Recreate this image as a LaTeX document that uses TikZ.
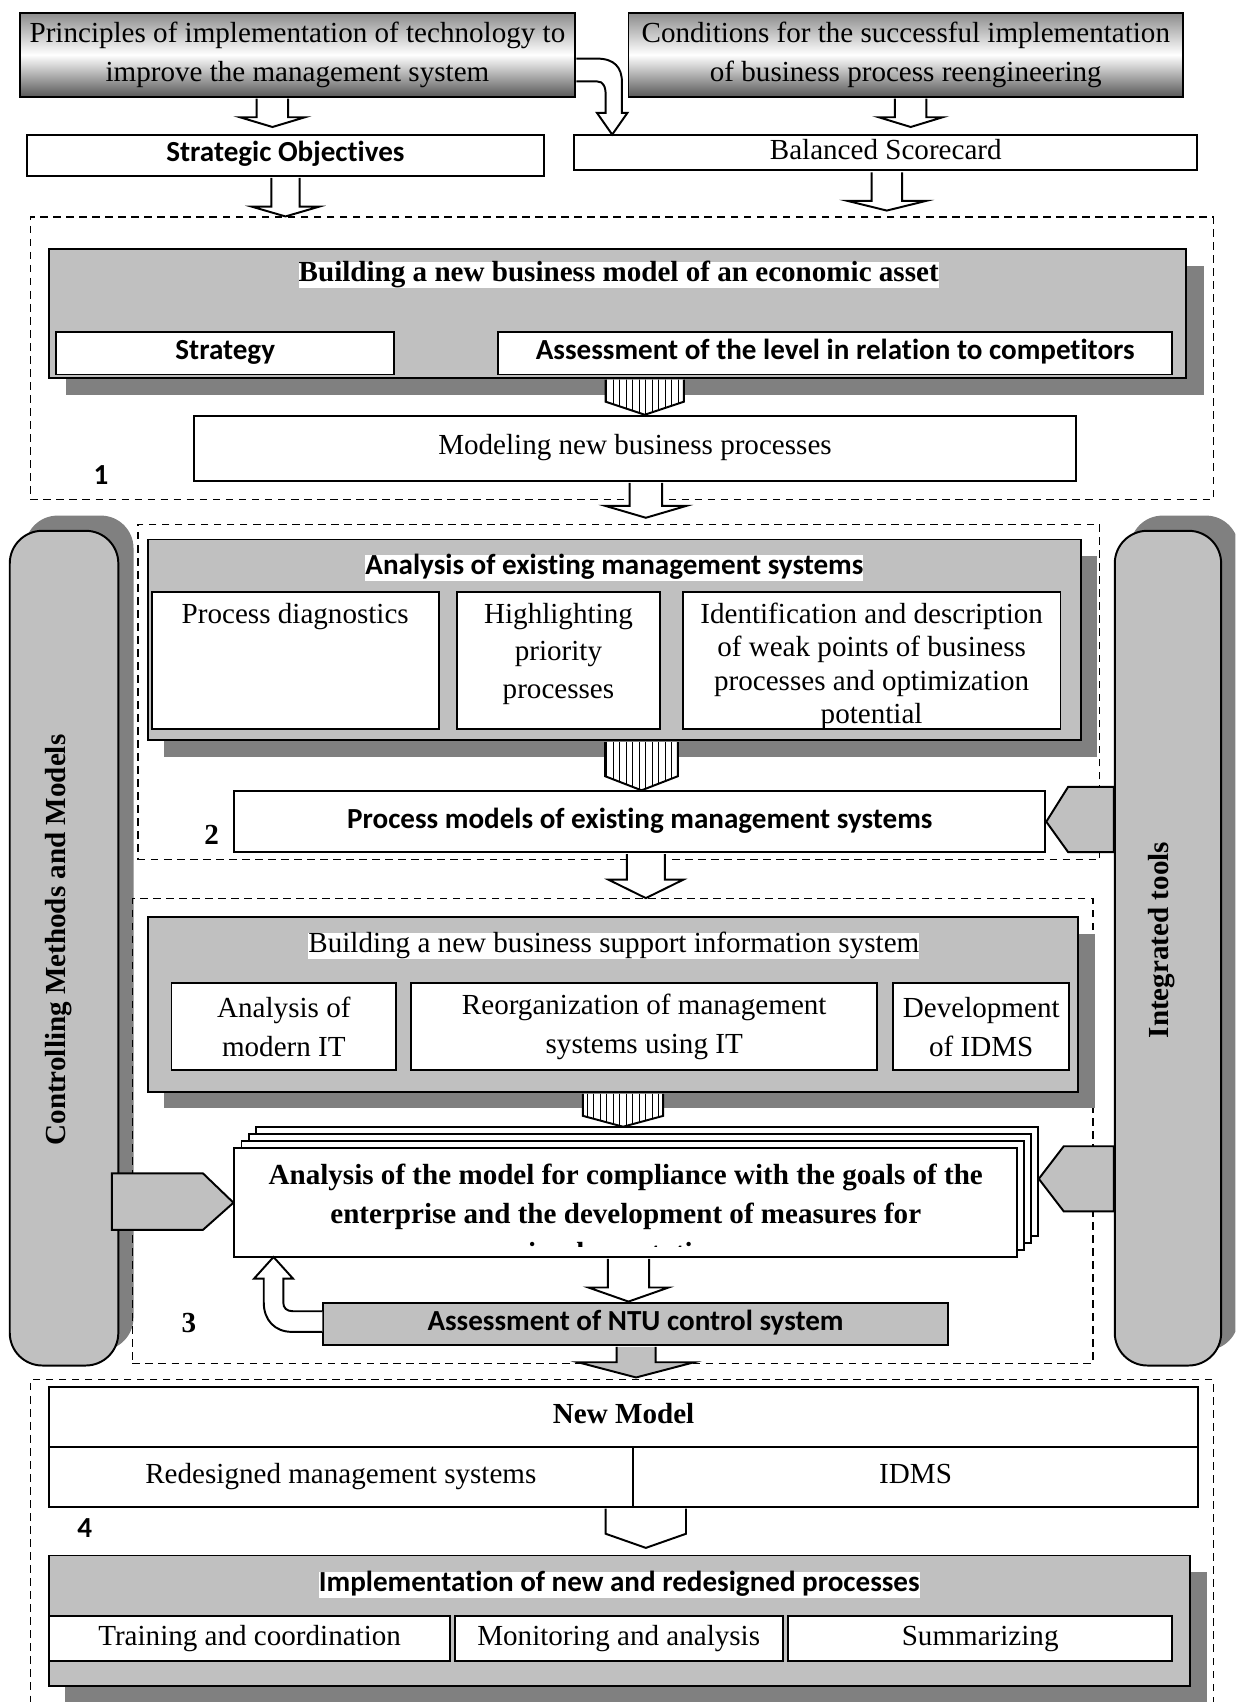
\documentclass[tikz,border=0pt]{standalone}
\usepackage{fontspec}
\setmainfont{Liberation Serif}
\newfontfamily\calibri[Ligatures=NoCommon]{Carlito}
\usetikzlibrary{calc,fit,patterns}
\definecolor{boxgray}{HTML}{C0C0C0}
\definecolor{shadowgray}{HTML}{808080}
\tikzset{
  boxline/.style={draw,line width=0.9pt,inner sep=0pt},
  box/.style={boxline,fill=white},
  graybox/.style={boxline,fill=boxgray},
  shadowfill/.style={fill=shadowgray},
  headbox/.style={boxline,top color=black!45,bottom color=black!65,middle color=white},
  dashframe/.style={draw,line width=0.6pt,dash pattern=on 3.5pt off 2.5pt,inner sep=0pt},
  pillar/.style={boxline,fill=boxgray,rounded corners=15pt},
  hollow/.style={draw,line width=0.9pt,fill=white},
  striped/.style={draw,line width=0.9pt,preaction={fill=white},pattern=vertical lines},
  grayarrow/.style={draw,line width=0.9pt,fill=boxgray},
  serif/.style={font=\fontsize{13.4}{18}\selectfont,align=center,inner sep=0pt},
  serifbold/.style={font=\fontsize{13.4}{18}\selectfont\bfseries,align=center,inner sep=0pt},
  sansbold/.style={font=\calibri\fontsize{13.4}{16}\selectfont\bfseries,align=center,inner sep=0pt},
  oneline/.style={text height=9pt,text depth=3pt},
  headline/.style={oneline,fill=white,inner xsep=1.5pt,inner ysep=2pt},
}
\newcommand{\blockarrow}[7][hollow]{%
  \draw[#1] let \p1=(#2,0 |- #3), \p2=(#2,0 |- #4) in
    (\x1-#5*0.25pt,\y1-0.45pt) -- (\x1-#5*0.25pt,\y2+#7*0.5pt) -- (\x1-#6*0.25pt,\y2+#7*0.5pt)
    -- (\x2,\y2) -- (\x1+#6*0.25pt,\y2+#7*0.5pt) -- (\x1+#5*0.25pt,\y2+#7*0.5pt)
    -- (\x1+#5*0.25pt,\y1-0.45pt);}
\begin{document}
\begin{tikzpicture}[x=0.5pt,y=-0.5pt]
\useasboundingbox (0,0) rectangle (1138,1568);
\clip (0,0) rectangle (1138,1568);

\node[headbox,fit={(18,12) (530,89)}] (prin) {};
\node[serif] (printxt) at (prin) {Principles of implementation of technology to\\improve the management system};
\node[headbox,fit={(579,12) (1090,89)}] (cond) {};
\node[serif] (condtxt) at (cond) {Conditions for the successful implementation\\of business process reengineering};
\node[box,fit={(25,124) (501,162)}] (strat) {};
\node[sansbold,oneline] (strattxt) at (strat) {Strategic Objectives};
\node[box,fit={(529,124) (1103,157)}] (bsc) {};
\node[serif,oneline] (bsctxt) at (bsc) {Balanced Scorecard};
\coordinate (tipA) at (251,117);
\coordinate (tipB) at (839,117);
\coordinate (tipC) at (817,194);
\blockarrow{251}{prin.south}{tipA}{29}{60}{9}
\blockarrow{839}{cond.south}{tipB}{29}{59}{9}
\draw[hollow] (531,54) -- (550,54) .. controls (566,54) and (573,62) .. (573,76) -- (573,104) -- (578,104) -- (564,124) -- (550,104) -- (558,104) -- (558,88) .. controls (558,80) and (556,75) .. (550,75) -- (531,75);

\node[dashframe,fit={(28,200) (1118,460)}] (sec1) {};
\blockarrow{263}{strat.south}{sec1.north}{26}{62}{9}
\blockarrow{817}{bsc.south}{tipC}{28}{73}{9}
\fill[shadowfill] (61,245) rectangle (1109,364);
\node[graybox,fit={(45,229) (1093,348)}] (bnm) {};
\node[headline,serifbold] (bnmtitle) at (570,253.5) {Building a new business model of an economic asset};
\node[box,fit={(52,306) (363,345)}] (strategy) {};
\node[sansbold,oneline] (strategytxt) at (strategy) {Strategy};
\node[box,fit={(459,306) (1080,345)}] (level) {};
\node[sansbold,oneline] (leveltxt) at (level) {Assessment of the level in relation to competitors};
\node[box,fit={(179,383) (991,443)}] (modeling) {};
\node[serif,oneline] (modelingtxt) at (modeling) {Modeling new business processes};
\blockarrow[striped]{594}{bnm.south}{modeling.north}{72}{72}{12}
\node[sansbold] (one) at (93,438) {1};
\coordinate (tipD) at (595,477);
\blockarrow{595}{modeling.south}{tipD}{30}{75}{11}

\fill[shadowfill,rounded corners=15pt] (23,475) rectangle (123,1244);
\fill[shadowfill,rounded corners=15pt] (1041,475) rectangle (1141,1244);
\node[pillar,fit={(9,489) (109,1258)}] (ctrl) {};
\node[pillar,fit={(1027,489) (1125,1258)}] (tools) {};
\node[serifbold,rotate=90] (ctrltxt) at (54,866) {Controlling Methods and Models};
\node[serifbold,rotate=90] (toolstxt) at (1070,866) {Integrated tools};

\node[dashframe,fit={(127,483) (1013,792)}] (sec2) {};
\fill[shadowfill] (151,512) rectangle (1011,697);
\node[graybox,fit={(136,497) (996,682)}] (aems) {};
\node[headline,sansbold] (aemstitle) at (566,523.5) {Analysis of existing management systems};
\node[box,fit={(140,545) (404,672)}] (diag) {};
\node[box,fit={(421,545) (608,672)}] (prio) {};
\node[box,fit={(629,545) (977,672)}] (weak) {};
\node[serif,anchor=north] (diagtxt) at (diag.north |- 0,555) {Process diagnostics};
\node[serif,anchor=north,font=\fontsize{13.4}{17.3}\selectfont] (priotxt) at (prio.north |- 0,555) {Highlighting\\priority\\processes};
\node[serif,anchor=north,font=\fontsize{13.4}{15.4}\selectfont] (weaktxt) at (weak.north |- 0,555) {Identification and description\\of weak points of business\\processes and optimization\\potential};
\node[box,fit={(216,729) (963,785)}] (pmodels) {};
\node[sansbold,oneline] (pmodelstxt) at (pmodels) {Process models of existing management systems};
\blockarrow[striped]{591}{aems.south}{pmodels.north}{67}{67}{13}
\node[serifbold] (two) at (195,769) {2};
\draw[grayarrow] (tools.west |- 0,725) -- (984,725) -- (pmodels.east) -- (984,785) -- (tools.west |- 0,785) -- cycle;

\node[dashframe,fit={(122,828) (1007,1256)}] (sec3) {};
\blockarrow{595}{pmodels.south}{sec3.north}{35}{69}{17}
\fill[shadowfill] (151,860) rectangle (1009,1021);
\node[graybox,fit={(136,845) (993,1006)}] (bnis) {};
\node[headline,serif] (bnistitle) at (565.5,871.5) {Building a new business support information system};
\node[box,fit={(158,906) (365,986)}] (modit) {};
\node[serif] (moditxt) at (modit) {Analysis of\\modern IT};
\node[box,fit={(379,906) (808,986)}] (reorg) {};
\node[serif] (reorgtxt) at (reorg) {Reorganization of management\\systems using IT};
\node[box,fit={(823,906) (985,986)}] (idmsdev) {};
\node[serif] (idmsdevtxt) at (idmsdev) {Development\\of IDMS};
\foreach \k in {3,2,1}
  \draw[box] (216+6.5*\k,1058-6.5*\k) rectangle +(721,100);
\node[box,fit={(216,1058) (937,1158)}] (doc) {};
\begin{scope}
\clip (216,1058) rectangle (937,1148);
\node[serifbold,anchor=north] (doctxt) at (doc.north |- 0,1072) {Analysis of the model for compliance with the goals of the\\enterprise and the development of measures for\\implementation};
\end{scope}
\coordinate (tipE) at (574,1038);
\blockarrow[striped]{574}{bnis.south}{tipE}{74}{74}{10}
\draw[grayarrow] (103,1081) -- (187,1081) -- (doc.west) -- (187,1133) -- (103,1133) -- cycle;
\draw[grayarrow] (tools.west |- 0,1056) -- (980,1056) -- (957,1086) -- (980,1116) -- (tools.west |- 0,1116) -- cycle;
\node[graybox,fit={(298,1200) (873,1239)}] (ntu) {};
\node[sansbold,oneline] (ntutxt) at (ntu) {Assessment of NTU control system};
\blockarrow{579}{doc.south}{ntu.north}{38}{74}{13}
\draw[hollow] (297,1227) -- (269,1227) .. controls (253,1227) and (243,1216) .. (243,1200) -- (243,1178) -- (234,1178) -- (252,1158) -- (270,1178) -- (261,1178) -- (261,1200) .. controls (261,1205) and (264,1208) .. (270,1208) -- (297,1208);
\node[serifbold] (three) at (174,1219) {3};

\node[dashframe,fit={(28,1271) (1118,1620)}] (sec4) {};
\coordinate (tipF) at (586,1269);
\blockarrow[grayarrow]{586}{ntu.south}{tipF}{36}{107}{14}
\node[box,fit={(45,1278) (1104,1333)}] (newmodel) {};
\node[serifbold,oneline] (newmodeltxt) at (newmodel) {New Model};
\node[box,fit={(45,1333) (583,1388)}] (redes) {};
\node[serif,oneline] (redestxt) at (redes) {Redesigned management systems};
\node[box,fit={(583,1333) (1104,1388)}] (idms) {};
\node[serif,oneline] (idmstxt) at (idms) {IDMS};
\node[sansbold] (four) at (78,1408) {4};
\coordinate (tipG) at (595,1426);
\blockarrow{595}{idms.south}{tipG}{74}{74}{13}
\fill[shadowfill] (60,1448) rectangle (1112,1600);
\node[graybox,fit={(45,1433) (1096,1553)}] (impl) {};
\node[headline,sansbold] (impltitle) at (570.5,1460) {Implementation of new and redesigned processes};
\node[box,fit={(45,1489) (415,1530)}] (train) {};
\node[serif,oneline] (traintxt) at (train) {Training and coordination};
\node[box,fit={(419,1489) (721,1530)}] (monit) {};
\node[serif,oneline] (monittxt) at (monit) {Monitoring and analysis};
\node[box,fit={(726,1489) (1080,1530)}] (summ) {};
\node[serif,oneline] (summtxt) at (summ) {Summarizing};
\end{tikzpicture}
\end{document}
